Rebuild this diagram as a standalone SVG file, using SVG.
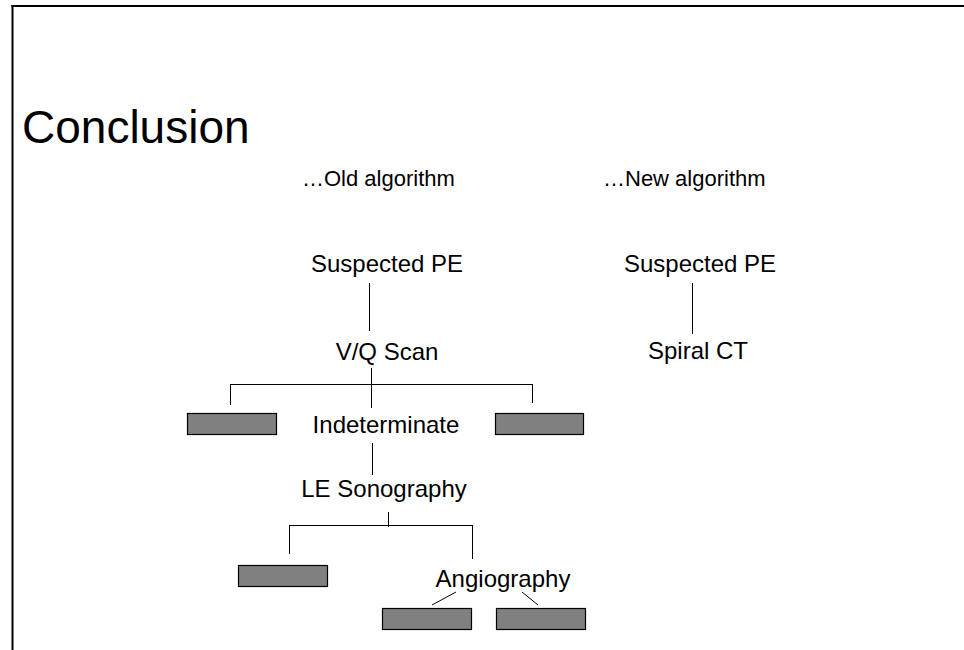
<svg xmlns="http://www.w3.org/2000/svg" width="964" height="650" viewBox="0 0 964 650">
<style>
text{font-family:"Liberation Sans",Arial,sans-serif;fill:#000}
.t{font-size:24px;text-anchor:middle}
.h{font-size:22px}
.box{fill:#808080;stroke:#000;stroke-width:1.2}
.c line{stroke:#000;stroke-width:1}
</style>
<rect width="964" height="650" fill="#fff"/>
<g id="frame">
<line x1="11.5" y1="6" x2="964" y2="6" stroke="#000" stroke-width="2"/>
<line x1="12.5" y1="5" x2="12.5" y2="650" stroke="#000" stroke-width="2"/>
</g>
<g id="title"><text x="22" y="143" style="font-size:46px">Conclusion</text></g>
<g id="hdr-old"><text class="h" x="302" y="186">…Old algorithm</text></g>
<g id="hdr-new"><text class="h" x="603" y="186">…New algorithm</text></g>
<g class="c" id="connectors">
<line x1="369.5" y1="283" x2="369.5" y2="331"/>
<line x1="371.5" y1="368" x2="371.5" y2="408"/>
<line x1="230.5" y1="384.5" x2="532.5" y2="384.5"/>
<line x1="230.5" y1="384" x2="230.5" y2="405"/>
<line x1="532.5" y1="384" x2="532.5" y2="403"/>
<line x1="372.5" y1="443" x2="372.5" y2="475"/>
<line x1="388.5" y1="512" x2="388.5" y2="527"/>
<line x1="289.5" y1="525.5" x2="472.5" y2="525.5"/>
<line x1="289.5" y1="525" x2="289.5" y2="554"/>
<line x1="472.5" y1="525" x2="472.5" y2="559"/>
<line x1="432" y1="605" x2="456" y2="592"/>
<line x1="522" y1="592" x2="538" y2="605"/>
<line x1="692.5" y1="283" x2="692.5" y2="334"/>
</g>
<g id="old-suspected"><text class="t" x="387" y="272">Suspected PE</text></g>
<g id="vq"><text class="t" x="387" y="360">V/Q Scan</text></g>
<g id="box-l1"><rect class="box" x="187.5" y="413.5" width="89" height="21"/></g>
<g id="indeterminate"><text class="t" x="386" y="433">Indeterminate</text></g>
<g id="box-r1"><rect class="box" x="495.5" y="413.5" width="88" height="21"/></g>
<g id="le"><text class="t" x="384" y="497">LE Sonography</text></g>
<g id="box-l2"><rect class="box" x="238.5" y="565.5" width="89" height="21"/></g>
<g id="angio"><text class="t" x="503" y="587">Angiography</text></g>
<g id="box-a1"><rect class="box" x="382.5" y="608.5" width="89" height="21"/></g>
<g id="box-a2"><rect class="box" x="496.5" y="608.5" width="89" height="21"/></g>
<g id="new-suspected"><text class="t" x="700" y="272">Suspected PE</text></g>
<g id="spiral"><text class="t" x="698" y="359">Spiral CT</text></g>
</svg>
